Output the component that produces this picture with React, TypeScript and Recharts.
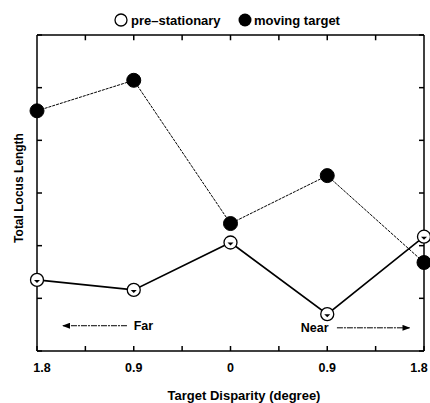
import React from "react";
import { LineChart, Line, XAxis, YAxis, ReferenceLine, Label } from "recharts";

const positions = [0, 1, 2, 3, 4];
const xLabels = ["1.8", "0.9", "0", "0.9", "1.8"];
const preStationary = [1.35, 1.16, 2.06, 0.7, 2.17];
const movingTarget = [4.56, 5.14, 2.42, 3.33, 1.68];
const xTicks = [0, 0.5, 1, 1.5, 2, 2.5, 3, 3.5, 4];
const yTicks = [0, 1, 2, 3, 4, 5, 6];
const Y_MAX = 6;

const data = positions.map((p, i) => ({ x: p, pre: preStationary[i], moving: movingTarget[i] }));

const FONT = "'Liberation Sans', Arial, Helvetica, sans-serif";

const BottomTick = (props: any) => {
  const { x, y, payload } = props;
  const v = payload.value;
  const idx = Number.isInteger(v) ? v : -1;
  let dx = 0;
  if (idx === 0) dx = 5;
  if (idx === 4) dx = -5;
  return (
    <g>
      <line x1={x} y1={y} x2={x} y2={y - 5} stroke="#000" strokeWidth={1.5} />
      {idx >= 0 && (
        <text x={x + dx} y={y + 21} textAnchor="middle" fontFamily={FONT} fontWeight="bold" fontSize={12.5} fill="#000">
          {xLabels[idx]}
        </text>
      )}
    </g>
  );
};

const LeftTick = (props: any) => {
  const { x, y } = props;
  return <line x1={x} y1={y} x2={x + 5} y2={y} stroke="#000" strokeWidth={1.5} />;
};

const RightTick = (props: any) => {
  const { x, y } = props;
  return <line x1={x} y1={y} x2={x - 5} y2={y} stroke="#000" strokeWidth={1.5} />;
};

const OpenDot = (props: any) => {
  const { cx, cy } = props;
  if (cx == null || cy == null) return null;
  return (
    <g>
      <circle cx={cx} cy={cy} r={6.5} fill="#fff" stroke="#000" strokeWidth={1.3} />
      <path d={`M ${cx - 3} ${cy} L ${cx + 3} ${cy} L ${cx} ${cy + 3} Z`} fill="#000" />
    </g>
  );
};

const FilledDot = (props: any) => {
  const { cx, cy } = props;
  if (cx == null || cy == null) return null;
  return <circle cx={cx} cy={cy} r={7} fill="#000" stroke="#000" />;
};

export default function App() {
  return (
    <div style={{ position: "absolute", left: 0, top: 0, width: 430, height: 403, background: "#fff" }}>
      <svg width={430} height={403} style={{ position: "absolute", left: 0, top: 0 }}>
        <circle cx={121} cy={20} r={6} fill="#fff" stroke="#000" strokeWidth={1.3} />
        <text x={131} y={24.5} fontFamily={FONT} fontWeight="bold" fontSize={13} fill="#000">pre–stationary</text>
        <circle cx={245} cy={20} r={6.5} fill="#000" />
        <text x={254} y={24.5} fontFamily={FONT} fontWeight="bold" fontSize={13} fill="#000">moving target</text>
        <text
          x={20}
          y={188}
          transform="rotate(-90 20 188)"
          textAnchor="middle"
          dominantBaseline="middle"
          fontFamily={FONT}
          fontWeight="bold"
          fontSize={12}
          fill="#000"
        >
          Total Locus Length
        </text>
        <text x={244} y={400} textAnchor="middle" fontFamily={FONT} fontWeight="bold" fontSize={13} fill="#000">
          Target Disparity (degree)
        </text>
        <defs>
          <marker id="arrowHead" markerWidth="8" markerHeight="6" refX="7" refY="3" orient="auto">
            <path d="M0,0 L8,3 L0,6 Z" fill="#000" />
          </marker>
        </defs>
      </svg>
      <div style={{ position: "absolute", left: 0, top: 0 }}>
        <LineChart width={430} height={403} data={data} margin={{ top: 34, right: 5, bottom: 0, left: 0 }}>
          <XAxis
            xAxisId="b"
            type="number"
            dataKey="x"
            domain={[0, 4]}
            ticks={xTicks}
            interval={0}
            height={52}
            tickSize={0}
            tickMargin={0}
            tick={<BottomTick />}
            axisLine={{ stroke: "#000", strokeWidth: 1.5 }}
            tickLine={false}
          />
          <XAxis
            xAxisId="t"
            orientation="top"
            type="number"
            dataKey="x"
            domain={[0, 4]}
            ticks={xTicks}
            interval={0}
            height={1}
            tickSize={0}
            tickMargin={0}
            tick={false}
            axisLine={{ stroke: "#000", strokeWidth: 1.5 }}
            tickLine={false}
          />
          <YAxis
            yAxisId="l"
            type="number"
            domain={[0, Y_MAX]}
            ticks={yTicks}
            interval={0}
            width={37}
            tickSize={0}
            tickMargin={0}
            tick={<LeftTick />}
            axisLine={{ stroke: "#000", strokeWidth: 1.5 }}
            tickLine={false}
          />
          <YAxis
            yAxisId="r"
            orientation="right"
            type="number"
            domain={[0, Y_MAX]}
            ticks={yTicks}
            interval={0}
            width={1}
            tickSize={0}
            tickMargin={0}
            tick={<RightTick />}
            axisLine={{ stroke: "#000", strokeWidth: 1.5 }}
            tickLine={false}
          />
          <Line
            xAxisId="t"
            yAxisId="r"
            type="linear"
            dataKey="pre"
            stroke="none"
            dot={false}
            activeDot={false}
            legendType="none"
            isAnimationActive={false}
          />
          {xTicks.slice(1, -1).map((t) => (
            <ReferenceLine
              key={"tt" + t}
              xAxisId="b"
              yAxisId="l"
              segment={[{ x: t, y: Y_MAX }, { x: t, y: Y_MAX - 0.1 }]}
              stroke="#000"
              strokeWidth={1.5}
              ifOverflow="visible"
            />
          ))}
          <ReferenceLine
            xAxisId="b"
            yAxisId="l"
            segment={[{ x: 0.93, y: 0.48 }, { x: 0.27, y: 0.48 }]}
            stroke="#000"
            strokeWidth={1}
            strokeDasharray="6 1 2 1"
            markerEnd="url(#arrowHead)"
            ifOverflow="visible"
          />
          <ReferenceLine
            xAxisId="b"
            yAxisId="l"
            segment={[{ x: 3.1, y: 0.44 }, { x: 3.85, y: 0.44 }]}
            stroke="#000"
            strokeWidth={1}
            strokeDasharray="6 1 2 1"
            markerEnd="url(#arrowHead)"
            ifOverflow="visible"
          />
          <ReferenceLine xAxisId="b" yAxisId="l" segment={[{ x: 1.0, y: 0.48 }, { x: 1.2, y: 0.48 }]} stroke="none" ifOverflow="visible">
            <Label value="Far" position="center" fontFamily={FONT} fontWeight="bold" fontSize={12.5} fill="#000" />
          </ReferenceLine>
          <ReferenceLine xAxisId="b" yAxisId="l" segment={[{ x: 2.75, y: 0.44 }, { x: 2.99, y: 0.44 }]} stroke="none" ifOverflow="visible">
            <Label value="Near" position="center" fontFamily={FONT} fontWeight="bold" fontSize={12.5} fill="#000" />
          </ReferenceLine>
          <Line
            xAxisId="b"
            yAxisId="l"
            type="linear"
            dataKey="moving"
            stroke="#000"
            strokeWidth={1}
            strokeDasharray="3 1"
            dot={<FilledDot />}
            isAnimationActive={false}
          />
          <Line
            xAxisId="b"
            yAxisId="l"
            type="linear"
            dataKey="pre"
            stroke="#000"
            strokeWidth={1.6}
            dot={<OpenDot />}
            isAnimationActive={false}
          />
        </LineChart>
      </div>
    </div>
  );
}
